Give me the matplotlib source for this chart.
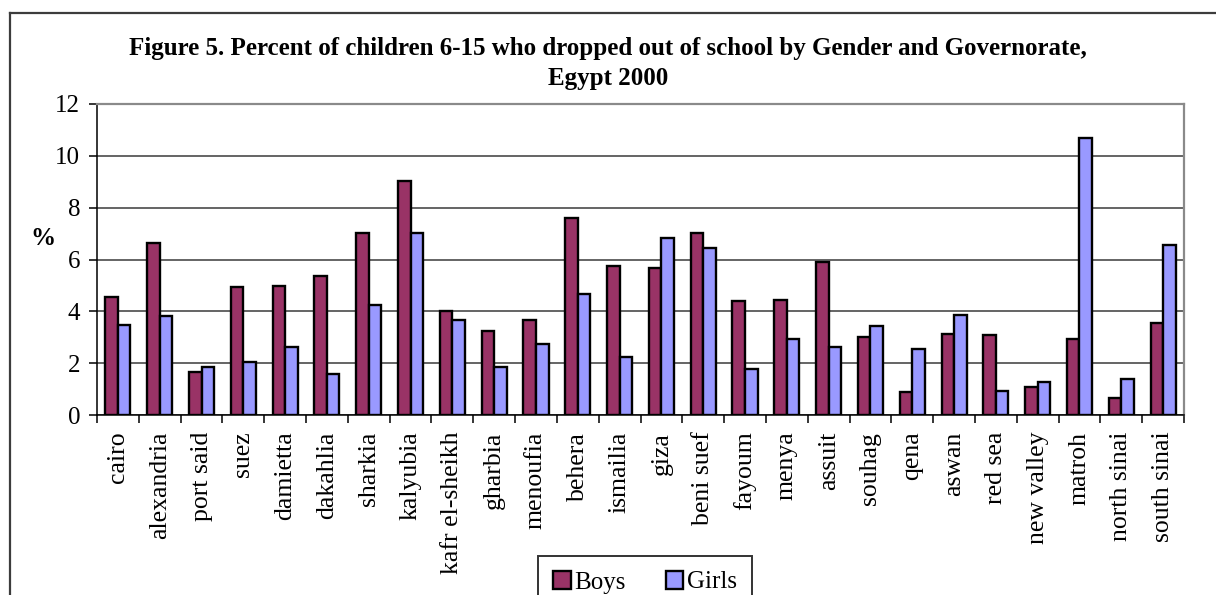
import matplotlib
matplotlib.use("Agg")
import matplotlib.pyplot as plt
import numpy as np
from matplotlib.lines import Line2D
from matplotlib.ticker import FixedLocator

# ─── Data ────────────────────────────────────────────────────────────────────
governorates = [
    "cairo", "alexandria", "port said", "suez", "damietta", "dakahlia",
    "sharkia", "kalyubia", "kafr el-sheikh", "gharbia", "menoufia", "behera",
    "ismailia", "giza", "beni suef", "fayoum", "menya", "assuit", "souhag",
    "qena", "aswan", "red sea", "new valley", "matroh", "north sinai",
    "south sinai",
]
boys = [4.57, 6.63, 1.65, 4.93, 4.99, 5.38, 7.04, 9.01, 4.02, 3.24, 3.67,
        7.59, 5.73, 5.69, 7.01, 4.38, 4.44, 5.92, 3.02, 0.88, 3.13, 3.08,
        1.09, 2.93, 0.64, 3.54]
girls = [3.47, 3.82, 1.84, 2.06, 2.64, 1.57, 4.23, 7.01, 3.67, 1.84, 2.74,
         4.65, 2.25, 6.82, 6.46, 1.76, 2.92, 2.61, 3.45, 2.56, 3.85, 0.94,
         1.26, 10.68, 1.38, 6.56]
yticks = [0, 2, 4, 6, 8, 10, 12]

BOYS_COLOR = "#993366"
GIRLS_COLOR = "#9999FF"

plt.rcParams["font.family"] = ["Liberation Serif", "DejaVu Serif"]

W, H = 1216, 595
fig = plt.figure(figsize=(W / 100, H / 100), dpi=100)
fig.patch.set_facecolor("white")

# outer chart frame (continues past right/bottom edges)
fig.add_artist(Line2D([10 / W, 1.0], [1 - 13 / H, 1 - 13 / H],
                      transform=fig.transFigure, color="#3c3c3c", lw=1.6))
fig.add_artist(Line2D([10 / W, 10 / W], [0.0, 1 - 13 / H],
                      transform=fig.transFigure, color="#3c3c3c", lw=1.6))

ax = fig.add_axes([97 / W, (H - 415) / H, (1184 - 97) / W, (415 - 104) / H])

x = np.arange(len(governorates))
bw = 0.3
ax.bar(x - bw / 2, boys, width=bw, color=BOYS_COLOR, edgecolor="black",
       linewidth=1.7, label="Boys", zorder=3)
ax.bar(x + bw / 2, girls, width=bw, color=GIRLS_COLOR, edgecolor="black",
       linewidth=1.7, label="Girls", zorder=3)

ax.set_xlim(-0.5, len(governorates) - 0.5)
ax.set_ylim(0, 12)
ax.set_yticks(yticks)
ax.set_yticklabels([str(v) for v in yticks], fontsize=18)
ax.yaxis.grid(True, color="#3a3a3a", linewidth=1.1, zorder=0)
ax.set_axisbelow(True)

# category labels at centres, tick marks at category boundaries
ax.set_xticks(x)
ax.set_xticklabels(governorates, rotation=90, fontsize=18.5, va="top")
ax.tick_params(axis="x", which="major", length=0, pad=12)
ax.xaxis.set_minor_locator(FixedLocator(np.arange(-0.5, len(governorates), 1)))
ax.tick_params(axis="x", which="minor", length=6, width=1.1, color="black",
               direction="out")
ax.tick_params(axis="y", length=6, width=1.1, direction="out", pad=6)

for side in ("top", "right"):
    ax.spines[side].set_color("#8a8a8a")
    ax.spines[side].set_linewidth(1.6)
for side in ("left", "bottom"):
    ax.spines[side].set_color("black")
    ax.spines[side].set_linewidth(1.1)

ax.set_ylabel("%", fontsize=18, fontweight="bold", rotation=0)
ax.yaxis.set_label_coords(-0.05, 0.53)

fig.text(0.5, 1 - 49 / H,
         "Figure 5. Percent of children 6-15 who dropped out of school by Gender and Governorate,",
         ha="center", va="center", fontsize=18, fontweight="bold")
fig.text(0.5, 1 - 79 / H, "Egypt 2000", ha="center", va="center",
         fontsize=18, fontweight="bold")

leg = fig.legend(loc="upper left", bbox_to_anchor=(538 / W, 1 - 556 / H),
                 ncol=2, fontsize=18, frameon=True, fancybox=False,
                 handlelength=0.7, handleheight=0.7, handletextpad=0.15,
                 columnspacing=1.6, borderpad=0.6, borderaxespad=0)
leg.get_frame().set_edgecolor("black")
leg.get_frame().set_linewidth(1.4)

fig.savefig("out.png", dpi=100)
